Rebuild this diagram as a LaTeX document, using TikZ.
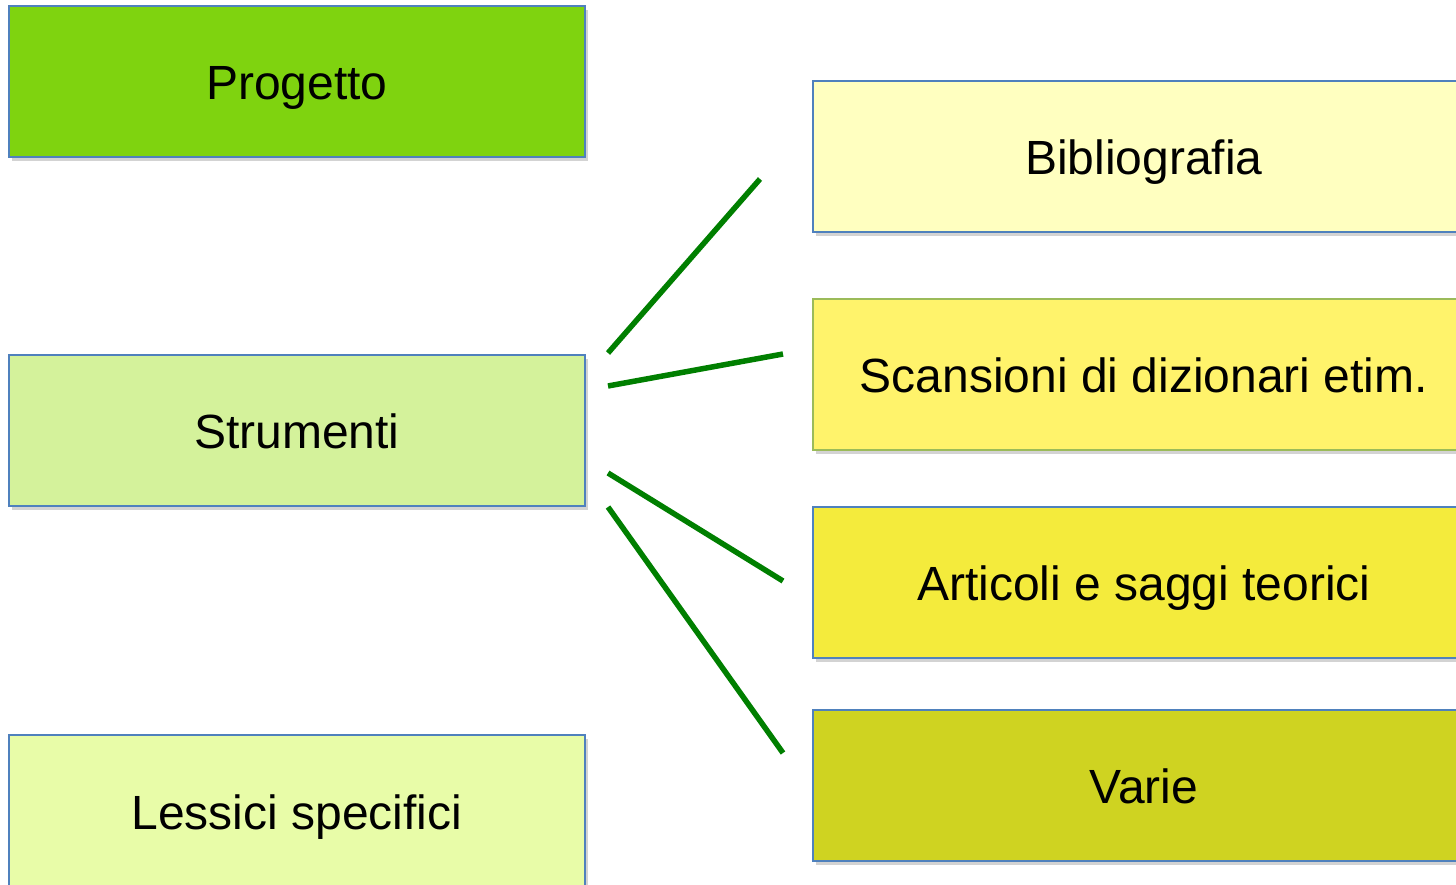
\documentclass[tikz,border=0pt]{standalone}
\usepackage{fontspec}
\setmainfont{Liberation Sans}
\usetikzlibrary{shadows}
\definecolor{cProg}{HTML}{7FD30F}
\definecolor{cStru}{HTML}{D4F29B}
\definecolor{cLess}{HTML}{E8FCA8}
\definecolor{cBib}{HTML}{FFFFC0}
\definecolor{cScan}{HTML}{FFF36B}
\definecolor{cArt}{HTML}{F4EB3C}
\definecolor{cVar}{HTML}{CFD321}
\definecolor{bBlue}{HTML}{4F81BD}
\definecolor{bGreen}{HTML}{9BBB59}
\definecolor{lnGreen}{HTML}{007F00}
\tikzset{
  boxL/.style={draw=bBlue, line width=1.8pt, anchor=north west,
    minimum width=576pt, minimum height=151pt, inner sep=0pt,
    text height=36pt, text depth=0pt,
    font=\fontsize{48}{57}\selectfont,
    drop shadow={opacity=0.35, shadow xshift=3pt, shadow yshift=-4pt}},
  boxR/.style={boxL, minimum width=662pt},
  conn/.style={draw=lnGreen, line width=5.5pt},
}
\begin{document}
\begin{tikzpicture}[x=1pt,y=-1pt]
\useasboundingbox (0,0) rectangle (1456,885);
\node[boxL, fill=cProg] (prog) at (8,5) {Progetto};
\node[boxL, fill=cStru] (stru) at (8,354) {Strumenti};
\node[boxL, fill=cLess, minimum height=154pt] (less) at (8,734) {Lessici specifici};
\node[boxR, fill=cBib] (bib) at (812,80) {Bibliografia};
\node[boxR, fill=cScan, draw=bGreen] (scan) at (812,298) {Scansioni di dizionari etim.};
\node[boxR, fill=cArt] (art) at (812,506) {Articoli e saggi teorici};
\node[boxR, fill=cVar] (var) at (812,709) {Varie};
\coordinate (s1) at (608,353);
\coordinate (e1) at (760,179);
\coordinate (s2) at (608,386);
\coordinate (e2) at (783,354);
\coordinate (s3) at (608,473);
\coordinate (e3) at (783,581);
\coordinate (s4) at (608,507);
\coordinate (e4) at (783,753);
\draw[conn] (s1) -- (e1);
\draw[conn] (s2) -- (e2);
\draw[conn] (s3) -- (e3);
\draw[conn] (s4) -- (e4);
\end{tikzpicture}
\end{document}
